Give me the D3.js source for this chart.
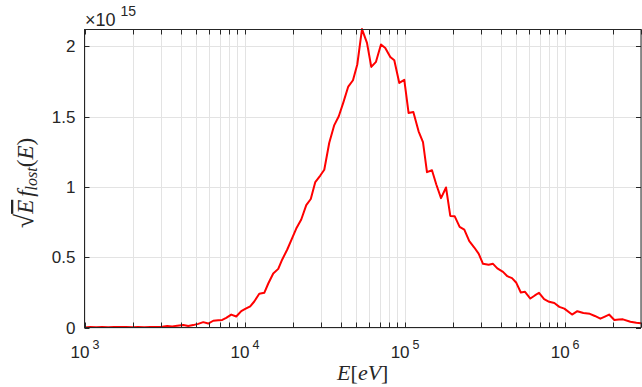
<!DOCTYPE html>
<html>
<head>
<meta charset="utf-8">
<script src="https://cdn.jsdelivr.net/npm/d3@7"></script>
<style>
  body { margin: 0; background: #fff; }
</style>
</head>
<body>
<div id="chart"></div>
<script>
// energies in eV
var energies = [
  1000, 1085, 1183, 1290, 1406, 1533, 1672, 1822, 1987, 2166,
  2362, 2575, 2807, 3060, 3288, 3532, 3797, 4140, 4447, 4779,
  5136, 5520, 5931, 6374, 6848, 7254, 7684, 8258, 8874, 9536,
  10100, 10850, 11500, 12360, 13280, 14070, 15110, 16240, 17200, 18490,
  19870, 21040, 22610, 24300, 25930, 27670, 29730, 31490, 33830, 36360,
  38800, 41400, 44470, 47590, 50630, 54180, 58210, 61920, 66260, 71190,
  75740, 81390, 86220, 92660, 99560, 105900, 113400, 122300, 130300, 138000,
  148300, 157800, 168900, 181500, 193000, 205400, 220800, 236100, 253700, 272600,
  290100, 309000, 335000, 356900, 379700, 412100, 438500, 469100, 499000, 532400,
  565500, 610600, 651300, 691800, 744500, 800200, 862300, 926700, 995600, 1112500,
  1200600, 1309000, 1437000, 1545000, 1672000, 1784000, 1895000, 2045000, 2183000, 2312000,
  2575000, 2807000, 3000000
];

// sqrt(E) f_lost(E), in units of 1e15
var fLost = [
  0.000, 0.003, 0.001, 0.004, 0.002, 0.004, 0.003, 0.004, 0.002, 0.003,
  0.002, 0.004, 0.004, 0.006, 0.011, 0.008, 0.013, 0.018, 0.011, 0.017,
  0.026, 0.038, 0.028, 0.048, 0.051, 0.054, 0.068, 0.092, 0.078, 0.117,
  0.132, 0.151, 0.185, 0.240, 0.247, 0.313, 0.384, 0.417, 0.484, 0.555,
  0.638, 0.704, 0.768, 0.871, 0.914, 1.035, 1.081, 1.122, 1.314, 1.440,
  1.503, 1.600, 1.714, 1.759, 1.871, 2.123, 2.025, 1.854, 1.890, 2.013,
  1.989, 1.925, 1.901, 1.740, 1.762, 1.526, 1.533, 1.396, 1.318, 1.105,
  1.119, 1.017, 0.920, 0.996, 0.794, 0.792, 0.716, 0.697, 0.614, 0.569,
  0.526, 0.453, 0.446, 0.453, 0.421, 0.396, 0.365, 0.351, 0.318, 0.249,
  0.254, 0.206, 0.228, 0.247, 0.202, 0.183, 0.174, 0.147, 0.134, 0.092,
  0.116, 0.103, 0.097, 0.082, 0.063, 0.078, 0.092, 0.053, 0.057, 0.058,
  0.041, 0.034, 0.030
];

var yTicks = [0, 0.5, 1, 1.5, 2];
var yTickLabels = ['0', '0.5', '1', '1.5', '2'];
var xMajorTicks = [1e3, 1e4, 1e5, 1e6];
var xTickExponents = ['3', '4', '5', '6'];
var yExponent = '15';

var attrs = {
  svgWidth: 642,
  svgHeight: 387,
  plotLeft: 84.5,
  plotRight: 641,
  plotTop: 29.5,
  plotBottom: 327.5,
  xDomain: [1e3, 3e6],
  yDomain: [0, 2.12],
  axisColor: '#262626',
  gridColor: '#e3e3e3',
  lineColor: '#ff0000',
  tickLength: 5,
  tickFont: '"Liberation Sans", Arial, sans-serif',
  labelFont: '"Liberation Serif", "Times New Roman", serif'
};

var data = energies.map(function (e, i) { return { e: e, v: fLost[i] }; });

var xScale = d3.scaleLog()
  .domain(attrs.xDomain)
  .range([attrs.plotLeft, attrs.plotRight]);

var yScale = d3.scaleLinear()
  .domain(attrs.yDomain)
  .range([attrs.plotBottom, attrs.plotTop]);

// minor ticks 2..9 per decade, inside domain
var xMinorTicks = [];
xMajorTicks.forEach(function (d) {
  for (var k = 2; k <= 9; k++) {
    if (d * k <= attrs.xDomain[1]) xMinorTicks.push(d * k);
  }
});

var svg = d3.select('#chart').append('svg')
  .attr('width', attrs.svgWidth)
  .attr('height', attrs.svgHeight);

svg.append('defs').append('clipPath').attr('id', 'plot-clip')
  .append('rect')
  .attr('x', attrs.plotLeft)
  .attr('y', attrs.plotTop - 2)
  .attr('width', attrs.plotRight - attrs.plotLeft)
  .attr('height', attrs.plotBottom - attrs.plotTop + 2);

// grid
var grid = svg.append('g').attr('class', 'grid');
grid.selectAll('.xgrid')
  .data(xMajorTicks.concat(xMinorTicks))
  .enter().append('line')
  .attr('x1', d => Math.round(xScale(d)) + 0.5)
  .attr('x2', d => Math.round(xScale(d)) + 0.5)
  .attr('y1', attrs.plotTop)
  .attr('y2', attrs.plotBottom)
  .attr('stroke', attrs.gridColor)
  .attr('stroke-width', 1);

grid.selectAll('.ygrid')
  .data(yTicks)
  .enter().append('line')
  .attr('x1', attrs.plotLeft)
  .attr('x2', attrs.plotRight)
  .attr('y1', d => Math.round(yScale(d)) + 0.5)
  .attr('y2', d => Math.round(yScale(d)) + 0.5)
  .attr('stroke', attrs.gridColor)
  .attr('stroke-width', 1);

// data line
var line = d3.line()
  .x(d => xScale(d.e))
  .y(d => yScale(d.v));

svg.append('path')
  .datum(data)
  .attr('clip-path', 'url(#plot-clip)')
  .attr('d', line)
  .attr('fill', 'none')
  .attr('stroke', attrs.lineColor)
  .attr('stroke-width', 2)
  .attr('stroke-linejoin', 'round');

// box
var axes = svg.append('g').attr('class', 'axes')
  .attr('stroke', attrs.axisColor)
  .attr('stroke-width', 1);

axes.append('rect')
  .attr('x', attrs.plotLeft)
  .attr('y', attrs.plotTop)
  .attr('width', attrs.plotRight - attrs.plotLeft)
  .attr('height', attrs.plotBottom - attrs.plotTop)
  .attr('fill', 'none');

// x ticks (inside, bottom and top)
xMajorTicks.concat(xMinorTicks).forEach(function (d) {
  var x = Math.round(xScale(d)) + 0.5;
  axes.append('line')
    .attr('x1', x).attr('x2', x)
    .attr('y1', attrs.plotBottom).attr('y2', attrs.plotBottom - attrs.tickLength);
  axes.append('line')
    .attr('x1', x).attr('x2', x)
    .attr('y1', attrs.plotTop).attr('y2', attrs.plotTop + attrs.tickLength);
});

// y ticks (inside, left and right)
yTicks.forEach(function (d) {
  var y = Math.round(yScale(d)) + 0.5;
  axes.append('line')
    .attr('x1', attrs.plotLeft).attr('x2', attrs.plotLeft + attrs.tickLength)
    .attr('y1', y).attr('y2', y);
  axes.append('line')
    .attr('x1', attrs.plotRight).attr('x2', attrs.plotRight - attrs.tickLength)
    .attr('y1', y).attr('y2', y);
});

// y tick labels
svg.selectAll('.ylabel')
  .data(yTicks)
  .enter().append('text')
  .attr('x', attrs.plotLeft - 9)
  .attr('y', d => yScale(d))
  .attr('dy', '0.36em')
  .attr('text-anchor', 'end')
  .attr('font-family', attrs.tickFont)
  .attr('font-size', 17)
  .attr('fill', attrs.axisColor)
  .text((d, i) => yTickLabels[i]);

// x tick labels: 10^n
var xLabels = svg.selectAll('.xlabel')
  .data(xMajorTicks)
  .enter().append('text')
  .attr('x', d => xScale(d) + 0.5)
  .attr('y', 357.5)
  .attr('text-anchor', 'middle')
  .attr('font-family', attrs.tickFont)
  .attr('font-size', 17)
  .attr('fill', attrs.axisColor);
xLabels.append('tspan').text('10');
xLabels.append('tspan')
  .attr('dx', 3)
  .attr('dy', -9)
  .attr('font-size', 12.5)
  .text((d, i) => xTickExponents[i]);

// exponent label
var expLabel = svg.append('text')
  .attr('x', 85)
  .attr('y', 26)
  .attr('font-family', attrs.tickFont)
  .attr('font-size', 18)
  .attr('fill', attrs.axisColor);
expLabel.append('tspan').text('\u00d710');
expLabel.append('tspan')
  .attr('dx', 5)
  .attr('dy', -10)
  .attr('font-size', 14)
  .text(yExponent);

// x axis label
var xTitle = svg.append('text')
  .attr('x', (attrs.plotLeft + attrs.plotRight) / 2)
  .attr('y', 380)
  .attr('text-anchor', 'middle')
  .attr('font-family', attrs.labelFont)
  .attr('font-size', 22)
  .attr('fill', attrs.axisColor);
xTitle.append('tspan').attr('font-style', 'italic').text('E');
xTitle.append('tspan').text('[');
xTitle.append('tspan').attr('font-style', 'italic').text('eV');
xTitle.append('tspan').text(']');

// y axis label
var yTitle = svg.append('text')
  .attr('transform', 'translate(33,' + 183 + ') rotate(-90)')
  .attr('text-anchor', 'middle')
  .attr('font-family', attrs.labelFont)
  .attr('font-size', 23)
  .attr('fill', attrs.axisColor);
yTitle.append('tspan').attr('font-size', 26).text('\u221a');
yTitle.append('tspan').attr('font-style', 'italic')
  .style('text-decoration', 'overline')
  .text('E');
yTitle.append('tspan').attr('font-style', 'italic').attr('dx', 3).text('f');
yTitle.append('tspan').attr('font-style', 'italic')
  .attr('font-size', 16).attr('dy', 4).text('lost');
yTitle.append('tspan').attr('dy', -4).text('(');
yTitle.append('tspan').attr('font-style', 'italic').text('E');
yTitle.append('tspan').text(')');
</script>
</body>
</html>
